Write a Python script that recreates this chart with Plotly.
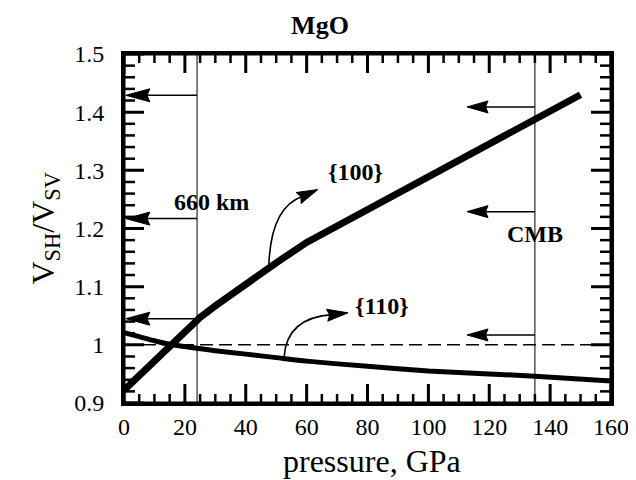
import math
import plotly.graph_objects as go

# ---- data ----
p100 = [0, 2, 5, 10, 15, 20, 25, 30, 40, 50, 60, 80, 100, 120, 135, 150]
r100 = [0.922, 0.932, 0.948, 0.975, 1.000, 1.024, 1.047, 1.067, 1.105, 1.141, 1.176,
        1.232, 1.288, 1.344, 1.388, 1.430]
p110 = [0, 5, 10, 15, 20, 24, 30, 40, 50, 60, 80, 100, 120, 135, 160]
r110 = [1.021, 1.014, 1.007, 1.001, 0.997, 0.994, 0.990, 0.984, 0.978, 0.972,
        0.963, 0.955, 0.950, 0.946, 0.938]
boundary_p = [24, 135]            # 660 km and CMB pressures
left_arrow_y = [1.429, 1.217, 1.045]
right_arrow_y = [1.409, 1.229, 1.017]
x_ticks = [0, 20, 40, 60, 80, 100, 120, 140, 160]
y_ticks = [0.9, 1.0, 1.1, 1.2, 1.3, 1.4, 1.5]
x_minor_ticks = [5, 10, 15, 25, 30, 35, 45, 50, 55, 65, 70, 75, 85, 90, 95,
                 105, 110, 115, 125, 130, 135, 145, 150, 155]
y_minor_ticks = [0.92, 0.94, 0.96, 0.98, 1.02, 1.04, 1.06, 1.08, 1.12, 1.14, 1.16, 1.18,
                 1.22, 1.24, 1.26, 1.28, 1.32, 1.34, 1.36, 1.38, 1.42, 1.44, 1.46, 1.48]

# ---- layout geometry ----
W, H = 636, 480
ML, MR, MT, MB = 116, 33, 46, 85
XR = (x_ticks[0], x_ticks[-1])
YR = (y_ticks[0], y_ticks[-1])
XDT = x_ticks[1] - x_ticks[0]
YDT = round(y_ticks[1] - y_ticks[0], 6)
PW, PH = W - ML - MR, H - MT - MB
sx = PW / (XR[1] - XR[0])
sy = PH / (YR[1] - YR[0])
FONT = "Liberation Serif"

fig = go.Figure()

# ---- inward tick marks: line markers centred on the frame, clipped to the plot area ----
def tick_trace(xs, ys, symbol, length, width):
    fig.add_trace(go.Scatter(x=xs, y=ys, mode="markers", cliponaxis=True, hoverinfo="skip",
                             showlegend=False,
                             marker=dict(symbol=symbol, size=length / 0.7, color="black",
                                         line=dict(width=width, color="black"))))


for yv in YR:
    tick_trace(x_ticks, [yv] * len(x_ticks), "line-ns", 19, 3)
    tick_trace(x_minor_ticks, [yv] * len(x_minor_ticks), "line-ns", 9, 2.5)
for xv in XR:
    tick_trace([xv] * len(y_ticks), y_ticks, "line-ew", 20, 3)
    tick_trace([xv] * len(y_minor_ticks), y_minor_ticks, "line-ew", 11, 2.5)

fig.add_trace(go.Scatter(x=p100, y=r100, mode="lines",
                         line=dict(color="black", width=7), showlegend=False))
fig.add_trace(go.Scatter(x=p110, y=r110, mode="lines",
                         line=dict(color="black", width=5, shape="spline", smoothing=0.6),
                         showlegend=False))

shapes = []
# frame
shapes.append(dict(type="rect", xref="x domain", yref="y domain", x0=0, x1=1, y0=0, y1=1,
                   line=dict(color="black", width=3), fillcolor="rgba(0,0,0,0)"))
shapes.append(dict(type="line", xref="x", yref="y", x0=XR[0], x1=XR[1], y0=1, y1=1,
                   line=dict(color="black", width=1.5, dash="13px,6px")))
for bp in boundary_p:
    shapes.append(dict(type="line", xref="x", yref="y", x0=bp, x1=bp, y0=YR[0], y1=YR[1],
                       line=dict(color="black", width=1)))


def arrowhead(xt, yt, ang, L=22, Wd=12):
    c, s = math.cos(ang), math.sin(ang)
    pts = [(0, 0), (-L, Wd / 2), (-0.88 * L, 0), (-L, -Wd / 2)]
    rp = [(px * c - py * s, px * s + py * c) for px, py in pts]
    path = "M" + " L".join(f"{a:.2f},{b:.2f}" for a, b in rp) + " Z"
    return dict(type="path", xref="x", yref="y", xsizemode="pixel", ysizemode="pixel",
                xanchor=xt, yanchor=yt, path=path, fillcolor="black",
                line=dict(color="black", width=1))


for yv in left_arrow_y:
    tip = XR[0] + 0.6
    shapes.append(dict(type="line", xref="x", yref="y", x0=boundary_p[0], x1=tip + 18 / sx,
                       y0=yv, y1=yv, line=dict(color="black", width=1.5)))
    shapes.append(arrowhead(tip, yv, math.pi, L=24, Wd=13))
for yv in right_arrow_y:
    tip = 112.7
    shapes.append(dict(type="line", xref="x", yref="y", x0=boundary_p[1], x1=tip + 16 / sx,
                       y0=yv, y1=yv, line=dict(color="black", width=1.5)))
    shapes.append(arrowhead(tip, yv, math.pi, L=21, Wd=12))


def curved_arrow(start, ctrl, end, tip):
    shapes.append(dict(type="path", xref="x", yref="y",
                       path=f"M{start[0]},{start[1]} Q{ctrl[0]},{ctrl[1]} {end[0]},{end[1]}",
                       line=dict(color="black", width=1.6)))
    ang = math.atan2((tip[1] - end[1]) * sy, (tip[0] - end[0]) * sx)
    shapes.append(arrowhead(tip[0], tip[1], ang, L=21, Wd=12))


curved_arrow((47.6, 1.138), (48.3, 1.236), (58.5, 1.255), (63.7, 1.267))
curved_arrow((52.6, 0.979), (53.4, 1.047), (68.5, 1.052), (73.6, 1.055))

labels = [("660 km", 28.9, 1.245), ("CMB", 135, 1.191),
          ("{100}", 76.0, 1.297), ("{110}", 84.6, 1.067)]
annotations = [dict(x=lx, y=ly, xref="x", yref="y", text=f"<b>{t}</b>", showarrow=False,
                    font=dict(family=FONT, size=24, color="black"),
                    xanchor="center", yanchor="middle") for t, lx, ly in labels]
# axis titles
annotations.append(dict(text="pressure, GPa", xref="paper", yref="paper",
                        x=(363.5 - ML) / PW, y=-(453 - (MT + PH)) / PH,
                        xanchor="center", yanchor="middle", showarrow=False,
                        font=dict(family=FONT, size=32, color="black")))
annotations.append(dict(text="V<sub>SH</sub>/V<sub>SV</sub>", xref="paper", yref="paper",
                        x=(37 - ML) / PW, y=0.5, textangle=-90,
                        xanchor="center", yanchor="middle", showarrow=False,
                        font=dict(family=FONT, size=32, color="black")))

tickfont = dict(family=FONT, size=24, color="black")

fig.update_layout(
    width=W, height=H,
    margin=dict(l=ML, r=MR, t=MT, b=MB),
    paper_bgcolor="white", plot_bgcolor="white",
    title=dict(text="<b>MgO</b>", x=312 / W, xanchor="center", y=1 - 17 / H,
               yanchor="middle", font=dict(family=FONT, size=26, color="black")),
    xaxis=dict(range=list(XR), tick0=XR[0], dtick=XDT, ticks="",
               showline=True, linecolor="black", linewidth=3, mirror=True,
               showgrid=False, zeroline=False, tickfont=tickfont),
    yaxis=dict(range=list(YR), tick0=YR[0], dtick=YDT, ticks="", ticksuffix="\u2002",
               showline=True, linecolor="black", linewidth=3, mirror=True,
               showgrid=False, zeroline=False, tickfont=tickfont),
    shapes=shapes,
    annotations=annotations,
)

fig.write_html("out.html")
